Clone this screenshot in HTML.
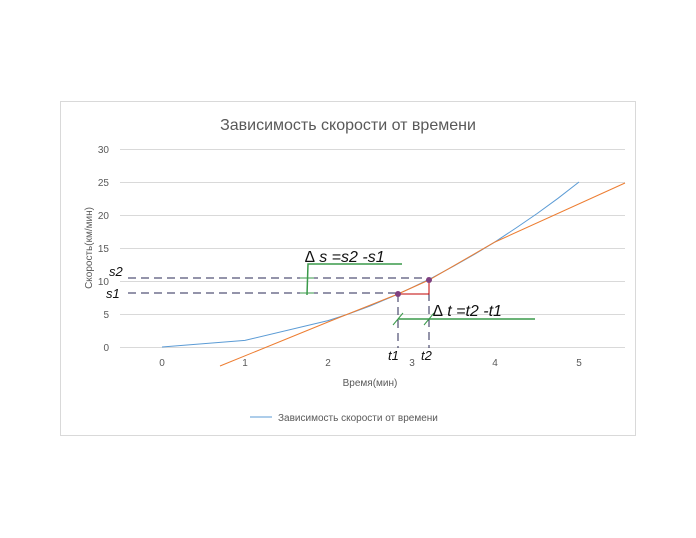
<!DOCTYPE html>
<html><head><meta charset="utf-8"><style>
html,body{margin:0;padding:0;background:#fff;}
svg{display:block;font-family:"Liberation Sans","DejaVu Sans",sans-serif;}
</style></head><body>
<svg width="696" height="538" viewBox="0 0 696 538">
<rect x="60.5" y="101.5" width="575" height="334" fill="#fff" stroke="#d9d9d9"/>
<text x="348" y="130" font-size="16" fill="#595959" text-anchor="middle">Зависимость скорости от времени</text>
<g stroke="#d9d9d9" stroke-width="1">
<line x1="120" y1="149.5" x2="625" y2="149.5"/>
<line x1="120" y1="182.5" x2="625" y2="182.5"/>
<line x1="120" y1="215.5" x2="625" y2="215.5"/>
<line x1="120" y1="248.5" x2="625" y2="248.5"/>
<line x1="120" y1="281.5" x2="625" y2="281.5"/>
<line x1="120" y1="314.5" x2="625" y2="314.5"/>
<line x1="120" y1="347.5" x2="625" y2="347.5"/>
</g>
<g font-size="10" fill="#595959" text-anchor="end">
<text x="109" y="153">30</text><text x="109" y="186">25</text><text x="109" y="219">20</text>
<text x="109" y="252">15</text><text x="109" y="285">10</text><text x="109" y="318">5</text><text x="109" y="351">0</text>
</g>
<g font-size="10" fill="#595959" text-anchor="middle">
<text x="162" y="366">0</text><text x="245" y="366">1</text><text x="328" y="366">2</text>
<text x="412" y="366">3</text><text x="495" y="366">4</text><text x="579" y="366">5</text>
</g>
<text x="370" y="386" font-size="10" fill="#595959" text-anchor="middle">Время(мин)</text>
<text transform="translate(92,248) rotate(-90)" font-size="10" fill="#595959" text-anchor="middle">Скорость(км/мин)</text>
<polyline fill="none" stroke="#5b9bd5" stroke-width="1" points="162,347 245,340.4 328,320.6 349,313.8 370,306 391,297.2 412,287.6 433,277.3 454,266 474,254.6 495,241.9 516,228 537,213.6 558,198.3 579,182"/>
<polyline fill="none" stroke="#ed7d31" stroke-width="1" points="220,366 328,322 398,294 429,280 495,242 625,183"/>
<g stroke="#2a2a55" stroke-width="1" stroke-dasharray="8,5" fill="none">
<line x1="128" y1="278" x2="429" y2="278"/>
<line x1="128" y1="293" x2="398" y2="293"/>
<line x1="398" y1="294" x2="398" y2="348"/>
<line x1="429" y1="280" x2="429" y2="348"/>
</g>
<polyline fill="none" stroke="#c00000" stroke-width="1" points="398,294 429,294 429,280"/>
<circle cx="398" cy="294" r="3" fill="#7f3f7f"/>
<circle cx="429" cy="280" r="3" fill="#7f3f7f"/>
<g stroke="#3a9a4a" stroke-width="1.5" fill="none">
<polyline points="402,264 308,264 307,295"/>
<line x1="300" y1="278" x2="314" y2="278" stroke-width="1"/>
<line x1="300" y1="293" x2="314" y2="293" stroke-width="1"/>
<line x1="398" y1="319" x2="535" y2="319"/>
<line x1="393" y1="325" x2="403" y2="313" stroke-width="1"/>
<line x1="424" y1="325" x2="434" y2="313" stroke-width="1"/>
</g>
<g font-family="'Liberation Sans',sans-serif" font-style="italic" fill="#111">
<text x="305" y="262" font-size="16">∆ s =s2 -s1</text>
<text x="433" y="316" font-size="16">∆ t =t2 -t1</text>
<text x="109" y="276" font-size="13">s2</text>
<text x="106" y="298" font-size="13">s1</text>
<text x="388" y="360" font-size="13">t1</text>
<text x="421" y="360" font-size="13">t2</text>
</g>
<line x1="250" y1="417" x2="272" y2="417" stroke="#5b9bd5" stroke-width="1"/>
<text x="278" y="421" font-size="10" fill="#595959">Зависимость скорости от времени</text>
</svg>
</body></html>
